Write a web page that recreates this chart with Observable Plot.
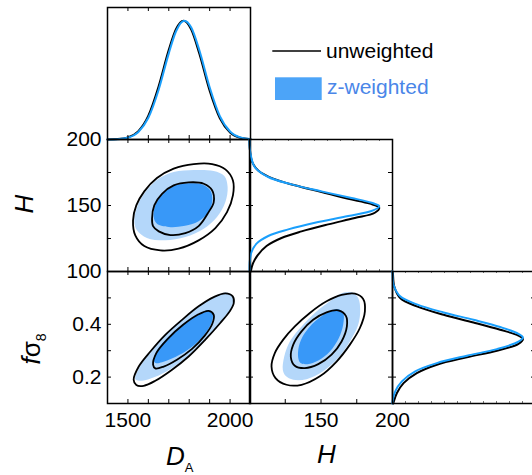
<!DOCTYPE html>
<html><head><meta charset="utf-8">
<script src="https://cdn.jsdelivr.net/npm/d3@7"></script>
<script src="https://cdn.jsdelivr.net/npm/@observablehq/plot@0.6"></script>
<style>
html,body{margin:0;padding:0;background:#fff;overflow:hidden;}
#chart{position:relative;width:532px;height:475px;overflow:hidden;background:#fff;}
</style></head><body><div id="chart"></div>
<script>
// ---------- 1D marginal: D_A (x) vs normalised density ----------
const DA_grid_unw = [1400,1450,1500,1550,1600,1650,1700,1735,1772,1810,1850,1900,1950,2000,2050,2100];
const DA_dens_unw = [0.0005,0.004,0.018,0.068,0.199,0.442,0.747,0.919,0.99,0.916,0.712,0.407,0.177,0.059,0.015,0.003];
const DA_grid_zw  = [1400,1450,1500,1550,1600,1650,1700,1735,1776,1810,1850,1900,1950,2000,2050,2100];
const DA_dens_zw  = [0.0004,0.003,0.015,0.061,0.181,0.413,0.718,0.90,0.99,0.933,0.742,0.436,0.195,0.067,0.018,0.004];

// ---------- 1D marginal: H (y) vs density (x) ----------
const H_curve_unw = [[200,0],[198.1,0],[190.5,0.005],[182.9,0.021],[176.6,0.067],[170.3,0.182],[165.3,0.349],[160.2,0.554],[155.1,0.759],[151.4,0.926],[148.3,0.998],[144.5,0.964],[140.5,0.81],[135.7,0.605],[130.4,0.40],[125.4,0.246],[119.3,0.131],[112.2,0.062],[105.9,0.026],[100.1,0.01]];
const H_curve_zw  = [[200,0],[195.6,0],[188,0.01],[179.1,0.041],[171.6,0.144],[166,0.323],[160.7,0.554],[155.7,0.785],[152.1,0.939],[149.6,0.998],[146.3,0.951],[142,0.759],[137,0.503],[131.9,0.298],[126.9,0.144],[121.1,0.054],[114.8,0.016],[108.4,0.003],[100,0]];

// ---------- 1D marginal: f sigma8 (y) vs density (x) ----------
const F_curve_unw = [[0.6,0],[0.594,0.003],[0.544,0.013],[0.4995,0.059],[0.468,0.187],[0.436,0.393],[0.407,0.623],[0.3795,0.828],[0.357,0.969],[0.344,1.003],[0.326,0.969],[0.300,0.803],[0.275,0.572],[0.247,0.341],[0.215,0.187],[0.177,0.085],[0.1395,0.034],[0.104,0.008],[0.1,0.006]];
const F_curve_zw  = [[0.6,0],[0.594,0],[0.55,0.008],[0.506,0.059],[0.4755,0.187],[0.445,0.393],[0.417,0.623],[0.3896,0.828],[0.364,0.969],[0.350,1.003],[0.334,0.969],[0.306,0.803],[0.281,0.572],[0.253,0.341],[0.222,0.175],[0.184,0.072],[0.146,0.021],[0.108,0],[0.1,0]];

// ---------- 2D contours: D_A vs H ----------
const DAH_unw_outer = [[1525,138.7],[1541,150.1],[1580,160.7],[1642,170.8],[1724,177.9],[1822,181.4],[1912,181.4],[1977,177.4],[2014,169],[2014,157.7],[1985,145],[1928,132.9],[1846,123.6],[1748,117.3],[1659,116],[1580,119.3],[1536,127.4]];
const DAH_unw_inner = [[1618,140],[1629,150.1],[1667,158.9],[1724,165.2],[1797,167.5],[1871,166.5],[1912,161.5],[1920,152.6],[1895,145],[1846,134.4],[1781,129.1],[1708,127.6],[1651,130.4],[1623,134.4]];
const DAH_zw_outer  = [[1531,138.7],[1548,150.1],[1585,160.2],[1646,169.8],[1724,175.3],[1822,176.9],[1920,176.1],[1972,172.3],[1988,164],[1977,152.6],[1936,141.3],[1871,132.4],[1781,126.1],[1683,123.6],[1593,125.4],[1544,131.2]];
const DAH_zw_inner  = [[1626,141.3],[1634,150.1],[1667,158.2],[1724,164.7],[1797,166.8],[1863,166],[1903,161.5],[1913,153.9],[1895,145],[1846,138],[1773,134.4],[1700,133.7],[1642,136.2]];

// ---------- 2D contours: D_A vs f sigma8 ----------
const DAF_unw_outer = [[1528,0.190],[1553,0.240],[1610,0.297],[1683,0.360],[1765,0.417],[1846,0.468],[1920,0.503],[1977,0.517],[2013,0.506],[2018,0.480],[1998,0.449],[1952,0.405],[1879,0.342],[1797,0.278],[1716,0.228],[1634,0.186],[1577,0.167],[1541,0.170]];
const DAF_unw_inner = [[1623,0.247],[1639,0.291],[1695,0.345],[1770,0.398],[1841,0.436],[1895,0.451],[1920,0.436],[1913,0.402],[1876,0.357],[1814,0.307],[1740,0.266],[1675,0.240],[1634,0.233]];
const DAF_zw_outer  = [[1536,0.192],[1561,0.243],[1618,0.300],[1691,0.363],[1773,0.420],[1855,0.470],[1928,0.506],[1982,0.520],[2013,0.506],[2014,0.480],[1995,0.449],[1949,0.405],[1876,0.342],[1794,0.281],[1713,0.233],[1631,0.200],[1569,0.186]];
const DAF_zw_inner  = [[1626,0.263],[1639,0.297],[1688,0.344],[1761,0.395],[1835,0.432],[1892,0.453],[1915,0.439],[1907,0.401],[1871,0.358],[1806,0.310],[1732,0.276],[1667,0.256],[1636,0.253]];

// ---------- 2D contours: H vs f sigma8 ----------
const HF_unw_outer = [[115.4,0.240],[117.7,0.291],[123.6,0.342],[131.7,0.392],[142.2,0.443],[153.9,0.487],[164.4,0.511],[173.7,0.516],[179.5,0.496],[180.7,0.449],[177.2,0.386],[170.2,0.323],[160.9,0.259],[149.2,0.203],[136.4,0.171],[125.9,0.171],[118.2,0.196]];
const HF_unw_inner = [[128.9,0.276],[130.6,0.323],[136.4,0.373],[144.5,0.417],[153.9,0.445],[162,0.453],[167.4,0.432],[168.1,0.392],[164.4,0.335],[157.4,0.285],[148.1,0.249],[138.7,0.234],[131.7,0.243]];
const HF_zw_outer  = [[123.3,0.228],[124.3,0.278],[128.2,0.335],[136.4,0.392],[145.7,0.443],[156.2,0.487],[164.4,0.518],[171.4,0.521],[176,0.500],[177.4,0.455],[176,0.398],[170.2,0.335],[162,0.272],[151.5,0.222],[139.9,0.192],[130.6,0.190],[125.2,0.205]];
const HF_zw_inner  = [[134.1,0.272],[134.5,0.316],[138.3,0.364],[145.7,0.411],[154.6,0.445],[161.6,0.458],[165.5,0.443],[165.5,0.398],[162.5,0.348],[156.2,0.297],[148.1,0.263],[140.6,0.249],[135.7,0.253]];

// ---------- axes ----------
const DA_domain = [1400, 2100];
const H_domain = [100, 200];
const F_domain = [0.1, 0.6];
const DENS_domain = [0, 1.1];
const DA_ticks = [1500,1600,1700,1800,1900,2000];
const DA_labels = [1500, 2000];
const H_ticks = [125,150,175];
const H_labels_left = [100,150,200];
const H_labels_bottom = [150,200];
const F_ticks = [0.2,0.3,0.4,0.5];
const F_labels = [0.2,0.4];
const DENS_ticks = [0.1,0.2,0.3,0.4,0.5,0.6,0.7,0.8,0.9,1.0];
const legendLabels = ["unweighted","z-weighted"];

// ---------- layout & style ----------
const colX=[106.5,249.3,392.3], rowY=[6.8,138.8,270.8], PW=143, PH=132, M=50;
const BLUE_LINE="#1a9ffc", LIGHT="#b4d7fa", DARK="#3898f8", SWATCH="#4ca4f8", LEGTXT="#4a86e8";
const FONT='"Liberation Sans", Arial, Helvetica, sans-serif';
const root=document.getElementById("chart");

// inward ticks: full-span tick marks trimmed with insets to a short length
function ticksIn(k, anchor, ticks, len=4, stroke="#000"){
  const o={stroke, strokeWidth:1};
  if(k==="x"){
    if(anchor==="top") o.insetBottom=PH-len; else o.insetTop=PH-len;
    return Plot.tickX(ticks,{x:d=>d,...o});
  } else {
    if(anchor==="left") o.insetRight=PW-len; else o.insetLeft=PW-len;
    return Plot.tickY(ticks,{y:d=>d,...o});
  }
}
function labels(k, anchor, ticks, fmt, pad){
  return (k==="x"?Plot.axisX:Plot.axisY)({anchor, ticks, tickSize:0, tickPadding:pad, tickFormat:fmt, label:null, fontSize:21, fill:"#000"});
}
function panel(c, r, xDomain, yDomain, marks){
  const svg = Plot.plot({
    width:PW+2*M, height:PH+2*M, margin:M,
    x:{domain:xDomain, axis:null}, y:{domain:yDomain, axis:null},
    style:{background:"transparent", overflow:"visible", fontFamily:FONT, fontSize:"21px", color:"#000"},
    marks:[...marks, Plot.frame({stroke:"#000", strokeWidth:1.5})]
  });
  svg.style.position="absolute"; svg.style.left=(colX[c]-M)+"px"; svg.style.top=(rowY[r]-M)+"px";
  root.appendChild(svg);
}
const px = d=>d[0], py = d=>d[1];
function contours(outerZ, innerZ, outerU, innerU){
  return [
    Plot.line(outerZ,{x:px,y:py,curve:"catmull-rom-closed",fill:LIGHT,stroke:"none"}),
    Plot.line(innerZ,{x:px,y:py,curve:"catmull-rom-closed",fill:DARK,stroke:"none"}),
    Plot.line(outerU,{x:px,y:py,curve:"catmull-rom-closed",fill:"none",stroke:"#000",strokeWidth:1.8}),
    Plot.line(innerU,{x:px,y:py,curve:"catmull-rom-closed",fill:"none",stroke:"#000",strokeWidth:1.8})
  ];
}

// top-left: D_A marginal
panel(0,0,DA_domain,DENS_domain,[
  Plot.line(DA_grid_unw,{x:d=>d,y:(d,i)=>DA_dens_unw[i],curve:"monotone-x",stroke:"#000",strokeWidth:2}),
  Plot.line(DA_grid_zw,{x:d=>d,y:(d,i)=>DA_dens_zw[i],curve:"monotone-x",stroke:BLUE_LINE,strokeWidth:2}),
  ticksIn("x","top",DA_ticks), ticksIn("x","bottom",DA_ticks)
]);
// D_A vs H
panel(0,1,DA_domain,H_domain,[
  ...contours(DAH_zw_outer,DAH_zw_inner,DAH_unw_outer,DAH_unw_inner),
  ticksIn("x","top",DA_ticks), ticksIn("x","bottom",DA_ticks),
  ticksIn("y","left",H_ticks), ticksIn("y","right",H_ticks),
  labels("y","left",H_labels_left,d3.format("d"),6)
]);
// H marginal
panel(1,1,DENS_domain,H_domain,[
  Plot.line(H_curve_unw,{x:py,y:px,curve:"catmull-rom",stroke:"#000",strokeWidth:2}),
  Plot.line(H_curve_zw,{x:py,y:px,curve:"catmull-rom",stroke:BLUE_LINE,strokeWidth:2}),
  ticksIn("y","left",H_ticks), ticksIn("y","right",H_ticks),
  ticksIn("x","top",DENS_ticks,2,"#777"), ticksIn("x","bottom",DENS_ticks,2,"#777")
]);
// D_A vs f sigma8
panel(0,2,DA_domain,F_domain,[
  ...contours(DAF_zw_outer,DAF_zw_inner,DAF_unw_outer,DAF_unw_inner),
  ticksIn("x","top",DA_ticks), ticksIn("x","bottom",DA_ticks),
  ticksIn("y","left",F_ticks), ticksIn("y","right",F_ticks),
  labels("y","left",F_labels,d3.format(".1f"),6),
  labels("x","bottom",DA_labels,d3.format("d"),9)
]);
// H vs f sigma8
panel(1,2,H_domain,F_domain,[
  ...contours(HF_zw_outer,HF_zw_inner,HF_unw_outer,HF_unw_inner),
  ticksIn("x","top",H_ticks), ticksIn("x","bottom",H_ticks),
  ticksIn("y","left",F_ticks), ticksIn("y","right",F_ticks),
  labels("x","bottom",H_labels_bottom,d3.format("d"),9)
]);
// f sigma8 marginal
panel(2,2,DENS_domain,F_domain,[
  Plot.line(F_curve_unw,{x:py,y:px,curve:"catmull-rom",stroke:"#000",strokeWidth:2}),
  Plot.line(F_curve_zw,{x:py,y:px,curve:"catmull-rom",stroke:BLUE_LINE,strokeWidth:2}),
  ticksIn("y","left",F_ticks), ticksIn("y","right",F_ticks),
  ticksIn("x","top",DENS_ticks,2,"#777"), ticksIn("x","bottom",DENS_ticks,2,"#777")
]);

// ---------- titles & legend overlay ----------
const ov = d3.create("svg").attr("width",532).attr("height",475)
  .style("position","absolute").style("left","0px").style("top","0px").style("font-family",FONT);
ov.append("text").attr("transform","translate(33,204) rotate(-90)").attr("text-anchor","middle")
  .attr("font-size",26).attr("font-style","italic").text("H");
const ft = ov.append("text").attr("transform","translate(40,349) rotate(-90)").attr("text-anchor","middle").attr("font-size",26);
ft.append("tspan").attr("font-style","italic").text("f");
ft.append("tspan").text("σ");
ft.append("tspan").attr("font-size",14).attr("dy",6).text("8");
const dt = ov.append("text").attr("x",166).attr("y",465).attr("font-size",26);
dt.append("tspan").attr("font-style","italic").text("D");
dt.append("tspan").attr("font-size",13).attr("dy",7).text("A");
ov.append("text").attr("x",317).attr("y",463).attr("font-size",26).attr("font-style","italic").text("H");
// legend
ov.append("line").attr("x1",272.3).attr("x2",321).attr("y1",51).attr("y2",51).attr("stroke","#000").attr("stroke-width",1.5);
ov.append("text").attr("x",326).attr("y",57.5).attr("font-size",21).attr("fill","#000").text(legendLabels[0]);
ov.append("rect").attr("x",275).attr("y",77.3).attr("width",46.7).attr("height",22.7).attr("fill",SWATCH);
ov.append("text").attr("x",327).attr("y",94).attr("font-size",21).attr("fill",LEGTXT).text(legendLabels[1]);
root.appendChild(ov.node());
</script></body></html>
